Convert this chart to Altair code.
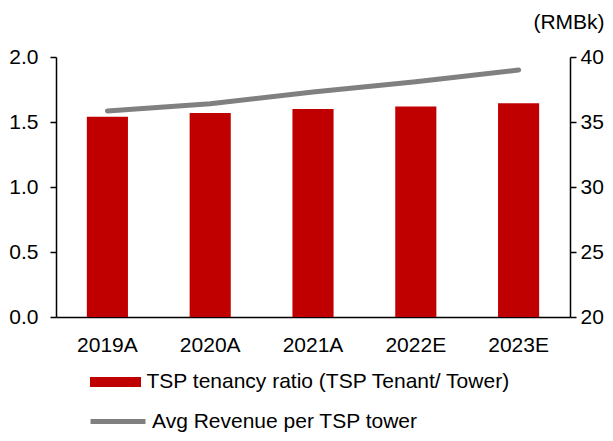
import altair as alt
import pandas as pd

years = ["2019A", "2020A", "2021A", "2022E", "2023E"]
tenancy_ratio = [1.54, 1.57, 1.60, 1.62, 1.645]
avg_revenue = [35.85, 36.4, 37.3, 38.1, 39.0]
left_ticks = [0, 0.5, 1.0, 1.5, 2.0]
right_ticks = [20, 25, 30, 35, 40]

bar_label = "TSP tenancy ratio (TSP Tenant/ Tower)"
line_label = "Avg Revenue per TSP tower"
unit_label = "(RMBk)"

df = pd.DataFrame({"year": years, "ratio": tenancy_ratio, "revenue": avg_revenue})

FONT = "Liberation Sans"
FS = 21

x_enc = alt.X(
    "year:N", sort=years, title=None,
    scale=alt.Scale(paddingInner=0.6, paddingOuter=0.3),
    axis=alt.Axis(labelAngle=0, labelFontSize=FS, labelFont=FONT, labelColor="black",
                  ticks=False, labelPadding=17, domainColor="black", domainWidth=1.5),
)

bars = alt.Chart(df).transform_calculate(series=f"'{bar_label}'").mark_bar(color="#C00000").encode(
    x=x_enc,
    y=alt.Y("ratio:Q", scale=alt.Scale(domain=[0, 2], nice=False),
            axis=alt.Axis(values=left_ticks, format=".1f", title=None, grid=False,
                          labelFontSize=FS, labelFont=FONT, labelColor="black",
                          labelPadding=12, tickSize=6, tickWidth=1.5, tickColor="black",
                          domainColor="black", domainWidth=1.5)),
    fill=alt.Fill("series:N", scale=alt.Scale(range=["#C00000"]),
                  legend=alt.Legend(title=None, orient="none", legendX=34, legendY=299.5,
                                    symbolType="M-1,-0.196H1V0.196H-1Z", symbolSize=2601,
                                    symbolStrokeWidth=0, labelFontSize=FS, labelFont=FONT,
                                    labelColor="black", labelOffset=5.5, padding=0,
                                    labelLimit=0, symbolOpacity=1)),
)

line = alt.Chart(df).transform_calculate(series2=f"'{line_label}'").mark_line(
    strokeWidth=5, strokeCap="round", color="#808080"
).encode(
    x=x_enc,
    y=alt.Y("revenue:Q", scale=alt.Scale(domain=[20, 40], nice=False),
            axis=alt.Axis(orient="right", values=right_ticks, title=unit_label, grid=False,
                          titleAngle=0, titleX=-1.5, titleY=-35, titleAlign="center",
                          titleBaseline="middle", titleFontSize=FS, titleFontWeight="normal",
                          titleFont=FONT, titleColor="black",
                          labelFontSize=FS, labelFont=FONT, labelColor="black",
                          labelPadding=4, tickSize=6, tickWidth=1.5, tickColor="black",
                          domainColor="black", domainWidth=1.5)),
    stroke=alt.Stroke("series2:N", scale=alt.Scale(range=["#808080"]),
                      legend=alt.Legend(title=None, orient="none", legendX=32, legendY=334.5,
                                        symbolType="stroke", symbolSize=3025,
                                        symbolStrokeWidth=5, labelFontSize=FS, labelFont=FONT,
                                        labelColor="black", labelOffset=4, padding=0,
                                        labelLimit=0)),
)

chart = alt.layer(bars, line).resolve_scale(y="independent").properties(
    width=514, height=260,
    autosize=alt.AutoSizeParams(type="none"),
    padding={"left": 48, "top": 49, "right": 35, "bottom": 116},
    background="white",
).configure_view(stroke=None)

chart.save("out.html", embed_options={"renderer": "svg", "actions": False})
